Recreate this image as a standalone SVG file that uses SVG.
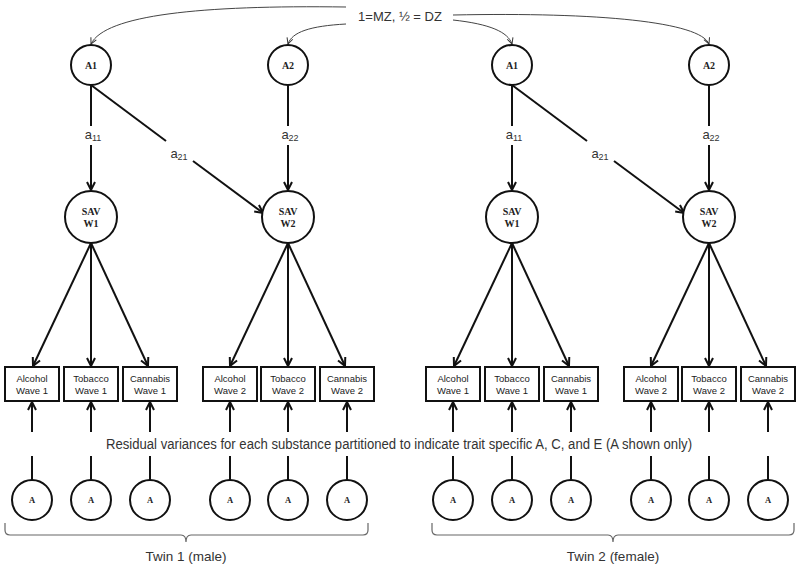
<svg xmlns="http://www.w3.org/2000/svg" width="800" height="568" viewBox="0 0 800 568">
<defs>
<marker id="ah" viewBox="0 0 10 10" refX="9" refY="5" markerWidth="10" markerHeight="10" markerUnits="userSpaceOnUse" orient="auto">
<path d="M1,1 L9,5 L1,9" fill="none" stroke="#111" stroke-width="2"/>
</marker>
<marker id="ahs" viewBox="0 0 8 8" refX="7" refY="4" markerWidth="8" markerHeight="8" markerUnits="userSpaceOnUse" orient="auto">
<path d="M1,1 L7,4 L1,7" fill="none" stroke="#333" stroke-width="1"/>
</marker>
<style>
.c{fill:#fff;stroke:#111;stroke-width:2}
.b{fill:#fff;stroke:#111;stroke-width:2}
.l{fill:none;stroke:#111;stroke-width:2}
.la{fill:none;stroke:#111;stroke-width:2;marker-end:url(#ah)}
.t{fill:none;stroke:#444;stroke-width:1;marker-end:url(#ahs)}
.br{fill:none;stroke:#666;stroke-width:1.2}
.n{font-family:"Liberation Serif",serif;font-weight:bold;font-size:10px;fill:#222;text-anchor:middle}
.na{font-family:"Liberation Serif",serif;font-weight:bold;font-size:8.5px;fill:#222;text-anchor:middle}
.bx{font-family:"Liberation Sans",Arial,sans-serif;font-size:9.5px;fill:#222;text-anchor:middle}
.s{font-family:"Liberation Sans",Arial,sans-serif;font-size:13px;fill:#333;text-anchor:middle}
.r{font-family:"Liberation Sans",Arial,sans-serif;font-size:14px;fill:#333;text-anchor:middle}
.p{font-family:"Liberation Sans",Arial,sans-serif;font-size:13.5px;fill:#333;text-anchor:middle}
</style>
</defs>
<rect width="800" height="568" fill="#fff"/>

<g id="connectors">
<path class="t" d="M346,7 C200,5 105,15 91,44"/>
<path class="t" d="M346,24 C310,26 292,32 288,44"/>
<path class="t" d="M453,15 C600,12 700,22 709,44"/>
<path class="t" d="M453,20 C490,24 508,32 512,44"/>
<path class="l" d="M91,85 L91,126"/>
<path class="la" d="M91,145 L91,190"/>
<path class="l" d="M288,85 L288,126"/>
<path class="la" d="M288,145 L288,190"/>
<path class="l" d="M91,85 L166,141"/>
<path class="la" d="M193,161 L263,213"/>
<path class="la" d="M91,243 L33,366"/>
<path class="la" d="M91,243 L91,366"/>
<path class="la" d="M91,243 L148,366"/>
<path class="la" d="M288,243 L230,366"/>
<path class="la" d="M288,243 L288,366"/>
<path class="la" d="M288,243 L345,366"/>
<path class="la" d="M32,432 L32,402"/>
<path class="la" d="M91,432 L91,402"/>
<path class="la" d="M150,432 L150,402"/>
<path class="la" d="M230,432 L230,402"/>
<path class="la" d="M288,432 L288,402"/>
<path class="la" d="M347,432 L347,402"/>
<path class="l" d="M32,456 L32,480"/>
<path class="l" d="M91,456 L91,480"/>
<path class="l" d="M150,456 L150,480"/>
<path class="l" d="M230,456 L230,480"/>
<path class="l" d="M288,456 L288,480"/>
<path class="l" d="M347,456 L347,480"/>
<path class="l" d="M512,85 L512,126"/>
<path class="la" d="M512,145 L512,190"/>
<path class="l" d="M709,85 L709,126"/>
<path class="la" d="M709,145 L709,190"/>
<path class="l" d="M512,85 L587,141"/>
<path class="la" d="M614,161 L684,213"/>
<path class="la" d="M512,243 L454,366"/>
<path class="la" d="M512,243 L512,366"/>
<path class="la" d="M512,243 L569,366"/>
<path class="la" d="M709,243 L651,366"/>
<path class="la" d="M709,243 L709,366"/>
<path class="la" d="M709,243 L766,366"/>
<path class="la" d="M453,432 L453,402"/>
<path class="la" d="M512,432 L512,402"/>
<path class="la" d="M571,432 L571,402"/>
<path class="la" d="M651,432 L651,402"/>
<path class="la" d="M709,432 L709,402"/>
<path class="la" d="M768,432 L768,402"/>
<path class="l" d="M453,456 L453,480"/>
<path class="l" d="M512,456 L512,480"/>
<path class="l" d="M571,456 L571,480"/>
<path class="l" d="M651,456 L651,480"/>
<path class="l" d="M709,456 L709,480"/>
<path class="l" d="M768,456 L768,480"/>
</g>

<g id="labels">
<text class="s" x="400" y="21">1=MZ, ½ = DZ</text>
<text class="s" x="93" y="139">a<tspan font-size="9" dy="2">11</tspan></text>
<text class="s" x="290" y="139">a<tspan font-size="9" dy="2">22</tspan></text>
<text class="s" x="179" y="158">a<tspan font-size="9" dy="2">21</tspan></text>
<text class="s" x="514" y="139">a<tspan font-size="9" dy="2">11</tspan></text>
<text class="s" x="711" y="139">a<tspan font-size="9" dy="2">22</tspan></text>
<text class="s" x="600" y="158">a<tspan font-size="9" dy="2">21</tspan></text>
<text class="r" x="399" y="449" textLength="586" lengthAdjust="spacingAndGlyphs">Residual variances for each substance partitioned to indicate trait specific A, C, and E (A shown only)</text>
</g>

<g id="t1-A1"><circle class="c" cx="91" cy="65" r="20"/><text class="n" x="91" y="69">A1</text></g>
<g id="t1-A2"><circle class="c" cx="288" cy="65" r="20"/><text class="n" x="288" y="69">A2</text></g>
<g id="t1-SAVW1"><circle class="c" cx="91" cy="217" r="26"/><text class="n" x="91" y="215">SAV</text><text class="n" x="91" y="227">W1</text></g>
<g id="t1-SAVW2"><circle class="c" cx="288" cy="217" r="26"/><text class="n" x="288" y="215">SAV</text><text class="n" x="288" y="227">W2</text></g>
<g id="t1-alc1"><rect class="b" x="5" y="367" width="54" height="34"/><text class="bx" x="32" y="382">Alcohol</text><text class="bx" x="32" y="394">Wave 1</text></g>
<g id="t1-tob1"><rect class="b" x="64" y="367" width="54" height="34"/><text class="bx" x="91" y="382">Tobacco</text><text class="bx" x="91" y="394">Wave 1</text></g>
<g id="t1-can1"><rect class="b" x="123" y="367" width="54" height="34"/><text class="bx" x="150" y="382">Cannabis</text><text class="bx" x="150" y="394">Wave 1</text></g>
<g id="t1-alc2"><rect class="b" x="203" y="367" width="54" height="34"/><text class="bx" x="230" y="382">Alcohol</text><text class="bx" x="230" y="394">Wave 2</text></g>
<g id="t1-tob2"><rect class="b" x="261" y="367" width="54" height="34"/><text class="bx" x="288" y="382">Tobacco</text><text class="bx" x="288" y="394">Wave 2</text></g>
<g id="t1-can2"><rect class="b" x="320" y="367" width="54" height="34"/><text class="bx" x="347" y="382">Cannabis</text><text class="bx" x="347" y="394">Wave 2</text></g>
<g id="t1-res1"><circle class="c" cx="32" cy="500" r="20"/><text class="na" x="32" y="503">A</text></g>
<g id="t1-res2"><circle class="c" cx="91" cy="500" r="20"/><text class="na" x="91" y="503">A</text></g>
<g id="t1-res3"><circle class="c" cx="150" cy="500" r="20"/><text class="na" x="150" y="503">A</text></g>
<g id="t1-res4"><circle class="c" cx="230" cy="500" r="20"/><text class="na" x="230" y="503">A</text></g>
<g id="t1-res5"><circle class="c" cx="288" cy="500" r="20"/><text class="na" x="288" y="503">A</text></g>
<g id="t1-res6"><circle class="c" cx="347" cy="500" r="20"/><text class="na" x="347" y="503">A</text></g>

<g id="t2-A1"><circle class="c" cx="512" cy="65" r="20"/><text class="n" x="512" y="69">A1</text></g>
<g id="t2-A2"><circle class="c" cx="709" cy="65" r="20"/><text class="n" x="709" y="69">A2</text></g>
<g id="t2-SAVW1"><circle class="c" cx="512" cy="217" r="26"/><text class="n" x="512" y="215">SAV</text><text class="n" x="512" y="227">W1</text></g>
<g id="t2-SAVW2"><circle class="c" cx="709" cy="217" r="26"/><text class="n" x="709" y="215">SAV</text><text class="n" x="709" y="227">W2</text></g>
<g id="t2-alc1"><rect class="b" x="426" y="367" width="54" height="34"/><text class="bx" x="453" y="382">Alcohol</text><text class="bx" x="453" y="394">Wave 1</text></g>
<g id="t2-tob1"><rect class="b" x="485" y="367" width="54" height="34"/><text class="bx" x="512" y="382">Tobacco</text><text class="bx" x="512" y="394">Wave 1</text></g>
<g id="t2-can1"><rect class="b" x="544" y="367" width="54" height="34"/><text class="bx" x="571" y="382">Cannabis</text><text class="bx" x="571" y="394">Wave 1</text></g>
<g id="t2-alc2"><rect class="b" x="624" y="367" width="54" height="34"/><text class="bx" x="651" y="382">Alcohol</text><text class="bx" x="651" y="394">Wave 2</text></g>
<g id="t2-tob2"><rect class="b" x="682" y="367" width="54" height="34"/><text class="bx" x="709" y="382">Tobacco</text><text class="bx" x="709" y="394">Wave 2</text></g>
<g id="t2-can2"><rect class="b" x="741" y="367" width="54" height="34"/><text class="bx" x="768" y="382">Cannabis</text><text class="bx" x="768" y="394">Wave 2</text></g>
<g id="t2-res1"><circle class="c" cx="453" cy="500" r="20"/><text class="na" x="453" y="503">A</text></g>
<g id="t2-res2"><circle class="c" cx="512" cy="500" r="20"/><text class="na" x="512" y="503">A</text></g>
<g id="t2-res3"><circle class="c" cx="571" cy="500" r="20"/><text class="na" x="571" y="503">A</text></g>
<g id="t2-res4"><circle class="c" cx="651" cy="500" r="20"/><text class="na" x="651" y="503">A</text></g>
<g id="t2-res5"><circle class="c" cx="709" cy="500" r="20"/><text class="na" x="709" y="503">A</text></g>
<g id="t2-res6"><circle class="c" cx="768" cy="500" r="20"/><text class="na" x="768" y="503">A</text></g>

<g id="twin1-brace">
<path class="br" d="M5,523 L5,530 Q5,535 10,535 L181,535 Q186,535 186,542 Q186,535 191,535 L363,535 Q368,535 368,530 L368,523"/>
<text class="p" x="186" y="561">Twin 1 (male)</text>
</g>
<g id="twin2-brace">
<path class="br" d="M432,523 L432,530 Q432,535 437,535 L608,535 Q613,535 613,542 Q613,535 618,535 L789,535 Q794,535 794,530 L794,523"/>
<text class="p" x="613" y="561">Twin 2 (female)</text>
</g>
</svg>
